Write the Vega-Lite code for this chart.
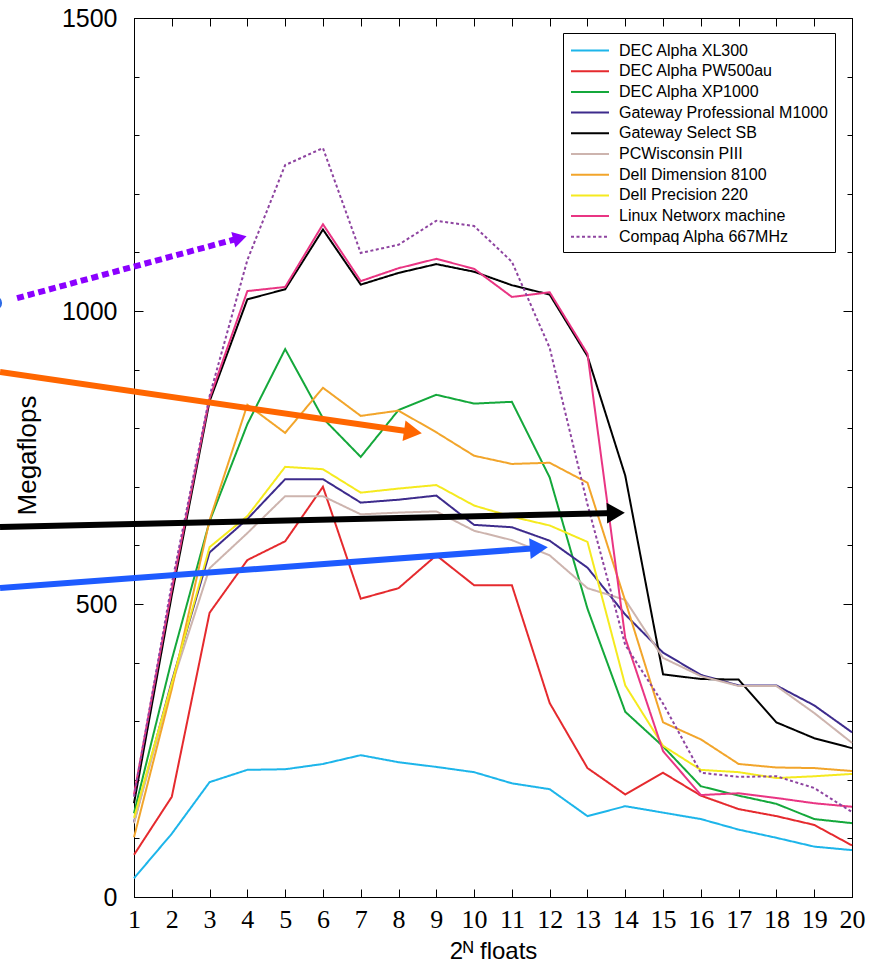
{
"$schema": "https://vega.github.io/schema/vega-lite/v6.json",
"width": 718, "height": 879,
"autosize": {"type": "none"},
"padding": {"left": 134, "top": 18, "right": 25, "bottom": 65},
"background": "white",
"config": {"view": {"stroke": "black", "strokeWidth": 1}, "font": "Liberation Sans"},
"datasets": {
"perf": [
{"system":"DEC Alpha XL300","n":1,"mflops":32},{"system":"DEC Alpha XL300","n":2,"mflops":108},{"system":"DEC Alpha XL300","n":3,"mflops":196},{"system":"DEC Alpha XL300","n":4,"mflops":217},{"system":"DEC Alpha XL300","n":5,"mflops":218},{"system":"DEC Alpha XL300","n":6,"mflops":227},{"system":"DEC Alpha XL300","n":7,"mflops":242},{"system":"DEC Alpha XL300","n":8,"mflops":230},{"system":"DEC Alpha XL300","n":9,"mflops":222},{"system":"DEC Alpha XL300","n":10,"mflops":213},{"system":"DEC Alpha XL300","n":11,"mflops":194},{"system":"DEC Alpha XL300","n":12,"mflops":184},{"system":"DEC Alpha XL300","n":13,"mflops":138},{"system":"DEC Alpha XL300","n":14,"mflops":155},{"system":"DEC Alpha XL300","n":15,"mflops":144},{"system":"DEC Alpha XL300","n":16,"mflops":133},{"system":"DEC Alpha XL300","n":17,"mflops":115},{"system":"DEC Alpha XL300","n":18,"mflops":101},{"system":"DEC Alpha XL300","n":19,"mflops":86},{"system":"DEC Alpha XL300","n":20,"mflops":80},
{"system":"DEC Alpha PW500au","n":1,"mflops":72},{"system":"DEC Alpha PW500au","n":2,"mflops":171},{"system":"DEC Alpha PW500au","n":3,"mflops":485},{"system":"DEC Alpha PW500au","n":4,"mflops":575},{"system":"DEC Alpha PW500au","n":5,"mflops":607},{"system":"DEC Alpha PW500au","n":6,"mflops":700},{"system":"DEC Alpha PW500au","n":7,"mflops":509},{"system":"DEC Alpha PW500au","n":8,"mflops":527},{"system":"DEC Alpha PW500au","n":9,"mflops":583},{"system":"DEC Alpha PW500au","n":10,"mflops":532},{"system":"DEC Alpha PW500au","n":11,"mflops":532},{"system":"DEC Alpha PW500au","n":12,"mflops":331},{"system":"DEC Alpha PW500au","n":13,"mflops":220},{"system":"DEC Alpha PW500au","n":14,"mflops":175},{"system":"DEC Alpha PW500au","n":15,"mflops":212},{"system":"DEC Alpha PW500au","n":16,"mflops":173},{"system":"DEC Alpha PW500au","n":17,"mflops":150},{"system":"DEC Alpha PW500au","n":18,"mflops":138},{"system":"DEC Alpha PW500au","n":19,"mflops":123},{"system":"DEC Alpha PW500au","n":20,"mflops":88},
{"system":"DEC Alpha XP1000","n":1,"mflops":143},{"system":"DEC Alpha XP1000","n":2,"mflops":405},{"system":"DEC Alpha XP1000","n":3,"mflops":641},{"system":"DEC Alpha XP1000","n":4,"mflops":807},{"system":"DEC Alpha XP1000","n":5,"mflops":935},{"system":"DEC Alpha XP1000","n":6,"mflops":817},{"system":"DEC Alpha XP1000","n":7,"mflops":751},{"system":"DEC Alpha XP1000","n":8,"mflops":831},{"system":"DEC Alpha XP1000","n":9,"mflops":857},{"system":"DEC Alpha XP1000","n":10,"mflops":842},{"system":"DEC Alpha XP1000","n":11,"mflops":845},{"system":"DEC Alpha XP1000","n":12,"mflops":716},{"system":"DEC Alpha XP1000","n":13,"mflops":492},{"system":"DEC Alpha XP1000","n":14,"mflops":316},{"system":"DEC Alpha XP1000","n":15,"mflops":257},{"system":"DEC Alpha XP1000","n":16,"mflops":189},{"system":"DEC Alpha XP1000","n":17,"mflops":173},{"system":"DEC Alpha XP1000","n":18,"mflops":159},{"system":"DEC Alpha XP1000","n":19,"mflops":133},{"system":"DEC Alpha XP1000","n":20,"mflops":126},
{"system":"Gateway Professional M1000","n":1,"mflops":128},{"system":"Gateway Professional M1000","n":2,"mflops":368},{"system":"Gateway Professional M1000","n":3,"mflops":588},{"system":"Gateway Professional M1000","n":4,"mflops":645},{"system":"Gateway Professional M1000","n":5,"mflops":713},{"system":"Gateway Professional M1000","n":6,"mflops":713},{"system":"Gateway Professional M1000","n":7,"mflops":673},{"system":"Gateway Professional M1000","n":8,"mflops":678},{"system":"Gateway Professional M1000","n":9,"mflops":685},{"system":"Gateway Professional M1000","n":10,"mflops":635},{"system":"Gateway Professional M1000","n":11,"mflops":631},{"system":"Gateway Professional M1000","n":12,"mflops":608},{"system":"Gateway Professional M1000","n":13,"mflops":562},{"system":"Gateway Professional M1000","n":14,"mflops":482},{"system":"Gateway Professional M1000","n":15,"mflops":417},{"system":"Gateway Professional M1000","n":16,"mflops":379},{"system":"Gateway Professional M1000","n":17,"mflops":361},{"system":"Gateway Professional M1000","n":18,"mflops":361},{"system":"Gateway Professional M1000","n":19,"mflops":327},{"system":"Gateway Professional M1000","n":20,"mflops":281},
{"system":"Gateway Select SB","n":1,"mflops":160},{"system":"Gateway Select SB","n":2,"mflops":515},{"system":"Gateway Select SB","n":3,"mflops":846},{"system":"Gateway Select SB","n":4,"mflops":1020},{"system":"Gateway Select SB","n":5,"mflops":1037},{"system":"Gateway Select SB","n":6,"mflops":1139},{"system":"Gateway Select SB","n":7,"mflops":1045},{"system":"Gateway Select SB","n":8,"mflops":1065},{"system":"Gateway Select SB","n":9,"mflops":1080},{"system":"Gateway Select SB","n":10,"mflops":1067},{"system":"Gateway Select SB","n":11,"mflops":1044},{"system":"Gateway Select SB","n":12,"mflops":1028},{"system":"Gateway Select SB","n":13,"mflops":923},{"system":"Gateway Select SB","n":14,"mflops":719},{"system":"Gateway Select SB","n":15,"mflops":380},{"system":"Gateway Select SB","n":16,"mflops":372},{"system":"Gateway Select SB","n":17,"mflops":371},{"system":"Gateway Select SB","n":18,"mflops":298},{"system":"Gateway Select SB","n":19,"mflops":271},{"system":"Gateway Select SB","n":20,"mflops":254},
{"system":"PCWisconsin PIII","n":1,"mflops":126},{"system":"PCWisconsin PIII","n":2,"mflops":362},{"system":"PCWisconsin PIII","n":3,"mflops":561},{"system":"PCWisconsin PIII","n":4,"mflops":621},{"system":"PCWisconsin PIII","n":5,"mflops":684},{"system":"PCWisconsin PIII","n":6,"mflops":684},{"system":"PCWisconsin PIII","n":7,"mflops":653},{"system":"PCWisconsin PIII","n":8,"mflops":656},{"system":"PCWisconsin PIII","n":9,"mflops":658},{"system":"PCWisconsin PIII","n":10,"mflops":625},{"system":"PCWisconsin PIII","n":11,"mflops":609},{"system":"PCWisconsin PIII","n":12,"mflops":583},{"system":"PCWisconsin PIII","n":13,"mflops":527},{"system":"PCWisconsin PIII","n":14,"mflops":507},{"system":"PCWisconsin PIII","n":15,"mflops":408},{"system":"PCWisconsin PIII","n":16,"mflops":377},{"system":"PCWisconsin PIII","n":17,"mflops":360},{"system":"PCWisconsin PIII","n":18,"mflops":360},{"system":"PCWisconsin PIII","n":19,"mflops":314},{"system":"PCWisconsin PIII","n":20,"mflops":263},
{"system":"Dell Dimension 8100","n":1,"mflops":102},{"system":"Dell Dimension 8100","n":2,"mflops":355},{"system":"Dell Dimension 8100","n":3,"mflops":643},{"system":"Dell Dimension 8100","n":4,"mflops":840},{"system":"Dell Dimension 8100","n":5,"mflops":792},{"system":"Dell Dimension 8100","n":6,"mflops":869},{"system":"Dell Dimension 8100","n":7,"mflops":821},{"system":"Dell Dimension 8100","n":8,"mflops":830},{"system":"Dell Dimension 8100","n":9,"mflops":793},{"system":"Dell Dimension 8100","n":10,"mflops":753},{"system":"Dell Dimension 8100","n":11,"mflops":739},{"system":"Dell Dimension 8100","n":12,"mflops":741},{"system":"Dell Dimension 8100","n":13,"mflops":707},{"system":"Dell Dimension 8100","n":14,"mflops":505},{"system":"Dell Dimension 8100","n":15,"mflops":298},{"system":"Dell Dimension 8100","n":16,"mflops":269},{"system":"Dell Dimension 8100","n":17,"mflops":227},{"system":"Dell Dimension 8100","n":18,"mflops":221},{"system":"Dell Dimension 8100","n":19,"mflops":220},{"system":"Dell Dimension 8100","n":20,"mflops":215},
{"system":"Dell Precision 220","n":1,"mflops":135},{"system":"Dell Precision 220","n":2,"mflops":365},{"system":"Dell Precision 220","n":3,"mflops":597},{"system":"Dell Precision 220","n":4,"mflops":650},{"system":"Dell Precision 220","n":5,"mflops":734},{"system":"Dell Precision 220","n":6,"mflops":730},{"system":"Dell Precision 220","n":7,"mflops":690},{"system":"Dell Precision 220","n":8,"mflops":697},{"system":"Dell Precision 220","n":9,"mflops":703},{"system":"Dell Precision 220","n":10,"mflops":668},{"system":"Dell Precision 220","n":11,"mflops":649},{"system":"Dell Precision 220","n":12,"mflops":634},{"system":"Dell Precision 220","n":13,"mflops":606},{"system":"Dell Precision 220","n":14,"mflops":361},{"system":"Dell Precision 220","n":15,"mflops":258},{"system":"Dell Precision 220","n":16,"mflops":217},{"system":"Dell Precision 220","n":17,"mflops":213},{"system":"Dell Precision 220","n":18,"mflops":203},{"system":"Dell Precision 220","n":19,"mflops":206},{"system":"Dell Precision 220","n":20,"mflops":210},
{"system":"Linux Networx machine","n":1,"mflops":175},{"system":"Linux Networx machine","n":2,"mflops":525},{"system":"Linux Networx machine","n":3,"mflops":851},{"system":"Linux Networx machine","n":4,"mflops":1034},{"system":"Linux Networx machine","n":5,"mflops":1041},{"system":"Linux Networx machine","n":6,"mflops":1148},{"system":"Linux Networx machine","n":7,"mflops":1051},{"system":"Linux Networx machine","n":8,"mflops":1073},{"system":"Linux Networx machine","n":9,"mflops":1089},{"system":"Linux Networx machine","n":10,"mflops":1072},{"system":"Linux Networx machine","n":11,"mflops":1024},{"system":"Linux Networx machine","n":12,"mflops":1032},{"system":"Linux Networx machine","n":13,"mflops":927},{"system":"Linux Networx machine","n":14,"mflops":442},{"system":"Linux Networx machine","n":15,"mflops":249},{"system":"Linux Networx machine","n":16,"mflops":174},{"system":"Linux Networx machine","n":17,"mflops":177},{"system":"Linux Networx machine","n":18,"mflops":169},{"system":"Linux Networx machine","n":19,"mflops":160},{"system":"Linux Networx machine","n":20,"mflops":154},
{"system":"Compaq Alpha 667MHz","n":1,"mflops":171},{"system":"Compaq Alpha 667MHz","n":2,"mflops":535},{"system":"Compaq Alpha 667MHz","n":3,"mflops":855},{"system":"Compaq Alpha 667MHz","n":4,"mflops":1087},{"system":"Compaq Alpha 667MHz","n":5,"mflops":1249},{"system":"Compaq Alpha 667MHz","n":6,"mflops":1278},{"system":"Compaq Alpha 667MHz","n":7,"mflops":1099},{"system":"Compaq Alpha 667MHz","n":8,"mflops":1113},{"system":"Compaq Alpha 667MHz","n":9,"mflops":1154},{"system":"Compaq Alpha 667MHz","n":10,"mflops":1145},{"system":"Compaq Alpha 667MHz","n":11,"mflops":1084},{"system":"Compaq Alpha 667MHz","n":12,"mflops":937},{"system":"Compaq Alpha 667MHz","n":13,"mflops":670},{"system":"Compaq Alpha 667MHz","n":14,"mflops":430},{"system":"Compaq Alpha 667MHz","n":15,"mflops":330},{"system":"Compaq Alpha 667MHz","n":16,"mflops":212},{"system":"Compaq Alpha 667MHz","n":17,"mflops":205},{"system":"Compaq Alpha 667MHz","n":18,"mflops":206},{"system":"Compaq Alpha 667MHz","n":19,"mflops":186},{"system":"Compaq Alpha 667MHz","n":20,"mflops":145}
],
"arrows": [
{"id":"violet","x0":-2.095,"y0":1022,"x1":3.804,"y1":1124.6},
{"id":"orange","x0":-2.545,"y0":895.9,"x1":8.381,"y1":793.5},
{"id":"black","x0":-2.545,"y0":631.4,"x1":13.751,"y1":655.3},
{"id":"blue","x0":-2.545,"y0":527.3,"x1":11.714,"y1":595.6}
],
"blob": [{"x":-2.677,"y":1013.6}]
},
"layer": [
{
"data": {"name": "perf"},
"mark": {"type": "line", "strokeWidth": 2},
"encoding": {
"x": {"field": "n", "type": "quantitative", "scale": {"domain": [1, 20], "nice": false, "zero": false},
 "axis": {"orient": "bottom", "values": [1,2,3,4,5,6,7,8,9,10,11,12,13,14,15,16,17,18,19,20], "format": "d", "grid": false, "domainColor": "black", "tickColor": "black", "tickSize": -8, "labelPadding": 17, "labelFont": "Liberation Sans Narrow", "labelFontSize": 26, "labelColor": "black", "labelFlush": false, "labelOverlap": false,
  "title": "2ᴺ floats", "titleFont": "Liberation Sans", "titleFontSize": 24, "titleFontWeight": "normal", "titleColor": "black", "titleBaseline": "alphabetic", "titleY": 61}},
"y": {"field": "mflops", "type": "quantitative", "scale": {"domain": [0, 1500], "nice": false},
 "axis": {"orient": "left", "values": [0,100,200,300,400,500,600,700,800,900,1000,1100,1200,1300,1400,1500], "format": "d", "grid": false, "domainColor": "black", "tickColor": "black",
  "tickSize": {"condition": {"test": "datum.value % 500 === 0", "value": -9}, "value": -5},
  "labelPadding": 26, "labelExpr": "datum.value % 500 === 0 ? datum.label : ''", "labelFontSize": 25, "labelColor": "black", "labelFlush": false, "labelOverlap": false,
  "title": "Megaflops", "titleFontSize": 26, "titleFontWeight": "normal", "titleColor": "black", "titleBaseline": "alphabetic", "titleX": -99, "titleY": 437, "titleAngle": -90}},
"color": {"field": "system", "type": "nominal",
 "scale": {"domain": ["DEC Alpha XL300","DEC Alpha PW500au","DEC Alpha XP1000","Gateway Professional M1000","Gateway Select SB","PCWisconsin PIII","Dell Dimension 8100","Dell Precision 220","Linux Networx machine","Compaq Alpha 667MHz"],
  "range": ["#1DB5EA","#E52A2E","#14A83B","#3D2B8C","#000000","#CDB4AE","#F2A52B","#F5EA1F","#E93583","#8E44A0"]},
 "legend": {"orient": "none", "legendX": 429, "legendY": 15, "title": null, "labelFontSize": 16, "labelColor": "black", "labelLimit": 400, "symbolType": "M-1,0L3,0", "symbolSize": 361, "symbolStrokeWidth": 2, "labelOffset": 28, "padding": 7, "rowPadding": 1.7, "strokeColor": "black", "fillColor": "white"}},
"strokeDash": {"field": "system", "type": "nominal",
 "scale": {"domain": ["DEC Alpha XL300","DEC Alpha PW500au","DEC Alpha XP1000","Gateway Professional M1000","Gateway Select SB","PCWisconsin PIII","Dell Dimension 8100","Dell Precision 220","Linux Networx machine","Compaq Alpha 667MHz"],
  "range": [[1,0],[1,0],[1,0],[1,0],[1,0],[1,0],[1,0],[1,0],[1,0],[3,2.5]]},
 "legend": {"orient": "none", "legendX": 429, "legendY": 15, "title": null, "labelFontSize": 16, "labelColor": "black", "labelLimit": 400, "symbolType": "M-1,0L3,0", "symbolSize": 361, "symbolStrokeWidth": 2, "labelOffset": 28, "padding": 7, "rowPadding": 1.7, "strokeColor": "black", "fillColor": "white"}}
}
},
{
"data": {"name": "arrows"},
"transform": [{"filter": "datum.id === 'orange'"}],
"mark": {"type": "rule", "color": "#FF6600", "strokeWidth": 6},
"encoding": {
"x": {"field": "x0", "type": "quantitative", "scale": {"domain": [1, 20], "nice": false, "zero": false},
 "axis": {"orient": "top", "values": [1,2,3,4,5,6,7,8,9,10,11,12,13,14,15,16,17,18,19,20], "labels": false, "grid": false, "domainColor": "black", "tickColor": "black", "tickSize": -8, "title": null}},
"y": {"field": "y0", "type": "quantitative", "scale": {"domain": [0, 1500], "nice": false},
 "axis": {"orient": "right", "values": [0,100,200,300,400,500,600,700,800,900,1000,1100,1200,1300,1400,1500], "labels": false, "grid": false, "domainColor": "black", "tickColor": "black", "tickSize": {"condition": {"test": "datum.value % 500 === 0", "value": -9}, "value": -5}, "title": null}},
"x2": {"field": "x1"},
"y2": {"field": "y1"}
}
},
{
"data": {"name": "arrows"},
"transform": [{"filter": "datum.id === 'orange'"}],
"mark": {"type": "point", "shape": "triangle-right", "filled": true, "color": "#FF6600", "opacity": 1, "size": 430, "angle": 8.2},
"encoding": {
"x": {"field": "x1", "type": "quantitative", "scale": {"domain": [1, 20], "nice": false, "zero": false}, "axis": null},
"y": {"field": "y1", "type": "quantitative", "scale": {"domain": [0, 1500], "nice": false}, "axis": null}
}
},
{
"data": {"name": "arrows"},
"transform": [{"filter": "datum.id === 'black'"}],
"mark": {"type": "rule", "color": "#000000", "strokeWidth": 6},
"encoding": {
"x": {"field": "x0", "type": "quantitative", "scale": {"domain": [1, 20], "nice": false, "zero": false}, "axis": null},
"y": {"field": "y0", "type": "quantitative", "scale": {"domain": [0, 1500], "nice": false}, "axis": null},
"x2": {"field": "x1"},
"y2": {"field": "y1"}
}
},
{
"data": {"name": "arrows"},
"transform": [{"filter": "datum.id === 'black'"}],
"mark": {"type": "point", "shape": "triangle-right", "filled": true, "color": "#000000", "opacity": 1, "size": 430, "angle": -1.5},
"encoding": {
"x": {"field": "x1", "type": "quantitative", "scale": {"domain": [1, 20], "nice": false, "zero": false}, "axis": null},
"y": {"field": "y1", "type": "quantitative", "scale": {"domain": [0, 1500], "nice": false}, "axis": null}
}
},
{
"data": {"name": "arrows"},
"transform": [{"filter": "datum.id === 'blue'"}],
"mark": {"type": "rule", "color": "#1E5BFF", "strokeWidth": 6},
"encoding": {
"x": {"field": "x0", "type": "quantitative", "scale": {"domain": [1, 20], "nice": false, "zero": false}, "axis": null},
"y": {"field": "y0", "type": "quantitative", "scale": {"domain": [0, 1500], "nice": false}, "axis": null},
"x2": {"field": "x1"},
"y2": {"field": "y1"}
}
},
{
"data": {"name": "arrows"},
"transform": [{"filter": "datum.id === 'blue'"}],
"mark": {"type": "point", "shape": "triangle-right", "filled": true, "color": "#1E5BFF", "opacity": 1, "size": 430, "angle": -4.3},
"encoding": {
"x": {"field": "x1", "type": "quantitative", "scale": {"domain": [1, 20], "nice": false, "zero": false}, "axis": null},
"y": {"field": "y1", "type": "quantitative", "scale": {"domain": [0, 1500], "nice": false}, "axis": null}
}
},
{
"data": {"name": "arrows"},
"transform": [{"filter": "datum.id === 'violet'"}],
"mark": {"type": "rule", "color": "#8B00FF", "strokeWidth": 6, "strokeDash": [7, 4]},
"encoding": {
"x": {"field": "x0", "type": "quantitative", "scale": {"domain": [1, 20], "nice": false, "zero": false}, "axis": null},
"y": {"field": "y0", "type": "quantitative", "scale": {"domain": [0, 1500], "nice": false}, "axis": null},
"x2": {"field": "x1"},
"y2": {"field": "y1"}
}
},
{
"data": {"name": "arrows"},
"transform": [{"filter": "datum.id === 'violet'"}],
"mark": {"type": "point", "shape": "triangle-right", "filled": true, "color": "#8B00FF", "opacity": 1, "size": 250, "angle": -15},
"encoding": {
"x": {"field": "x1", "type": "quantitative", "scale": {"domain": [1, 20], "nice": false, "zero": false}, "axis": null},
"y": {"field": "y1", "type": "quantitative", "scale": {"domain": [0, 1500], "nice": false}, "axis": null}
}
},
{
"data": {"name": "blob"},
"mark": {"type": "point", "shape": "circle", "filled": true, "color": "#2E6BE6", "opacity": 1, "size": 200},
"encoding": {
"x": {"field": "x", "type": "quantitative", "scale": {"domain": [1, 20], "nice": false, "zero": false}, "axis": null},
"y": {"field": "y", "type": "quantitative", "scale": {"domain": [0, 1500], "nice": false}, "axis": null}
}
}
],
"resolve": {"axis": {"x": "independent", "y": "independent"}}
}
